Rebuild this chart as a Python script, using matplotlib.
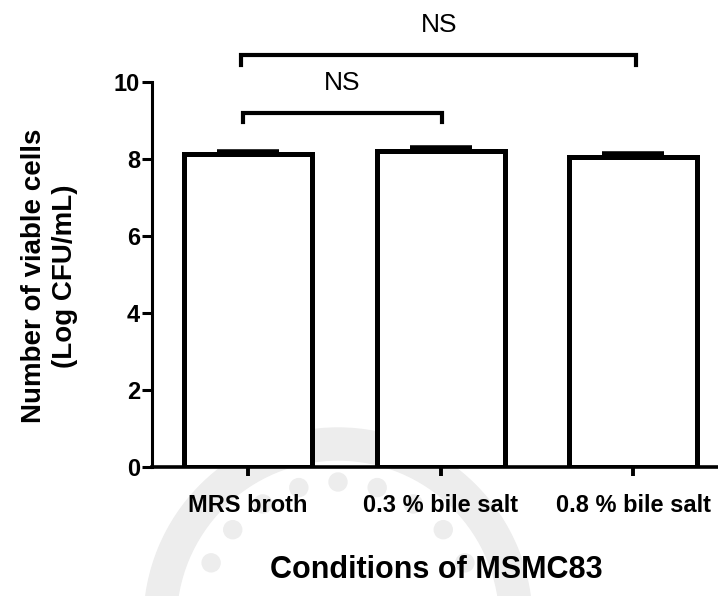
import matplotlib
matplotlib.use("Agg")
import matplotlib.pyplot as plt
from matplotlib.patches import Wedge, Circle
import numpy as np

plt.rcParams['font.family'] = ['Liberation Sans', 'DejaVu Sans']

# ---- data ----
categories = ["MRS broth", "0.3 % bile salt", "0.8 % bile salt"]
means = [8.12, 8.22, 8.06]
sds = [0.05, 0.07, 0.06]
y_ticks = [0, 2, 4, 6, 8, 10]
comparisons = [(0, 1, "NS"), (0, 2, "NS")]
y_label = "Number of viable cells\n(Log CFU/mL)"
x_label = "Conditions of MSMC83"

W, H = 718, 596
fig = plt.figure(figsize=(W / 100, H / 100), dpi=100)

# faint background watermark (decoration, pixel space)
wm = '#ededed'
fig.patches.append(Wedge((338, H - 622), 194, 0, 360, width=32,
                         color=wm, transform=None, zorder=-5))
for ang in np.linspace(25, 155, 9):
    a = np.deg2rad(ang)
    fig.patches.append(Circle((338 + 140 * np.cos(a), H - 622 + 140 * np.sin(a)),
                              9, color=wm, transform=None, zorder=-5))

ax = fig.add_axes([152 / W, 129 / H, (729.5 - 152) / W, 385 / H])
ax.patch.set_alpha(0)
ax.set_zorder(2)

x = np.arange(len(categories))
ax.bar(x, means, width=0.667, color='white', edgecolor='black',
       linewidth=3.6, zorder=3)
ax.errorbar(x, means, yerr=[np.zeros(len(sds)), sds], fmt='none',
            ecolor='black', elinewidth=3.6, capsize=22, capthick=4, zorder=4)

ax.set_xlim(-0.5, 2.5)
ax.set_ylim(0, 10)
ax.set_yticks(y_ticks)
ax.set_yticklabels([str(t) for t in y_ticks], fontsize=17, fontweight='bold')
ax.set_xticks(x)
ax.set_xticklabels(categories, fontsize=17, fontweight='bold')

for s in ['top', 'right']:
    ax.spines[s].set_visible(False)
ax.spines['left'].set_linewidth(2.2)
ax.spines['bottom'].set_linewidth(2.6)
ax.spines['left'].set_bounds(0, 10)
ax.tick_params(axis='y', direction='out', length=7.2, width=2.2, pad=1.5)
ax.tick_params(axis='x', direction='out', length=6.5, width=2.8, pad=13)

# significance brackets
bracket_geom = {(0, 1): (-0.026, 1.005, 9.19, 8.96, 9.97),
                (0, 2): (-0.036, 2.015, 10.70, 10.44, 11.48)}
for a, b, lab in comparisons:
    x0, x1, ytop, ylow, ytxt = bracket_geom[(a, b)]
    ax.plot([x0, x0, x1, x1], [ylow, ytop, ytop, ylow], color='black',
            lw=3, clip_on=False, solid_joinstyle='miter', zorder=5)
    ax.text((x0 + x1) / 2, ytxt, lab, ha='center', va='center',
            fontsize=19, clip_on=False)

fig.text(50 / W, 1 - 276 / H, y_label, rotation=90, ha='center', va='center',
         fontsize=20, fontweight='bold', multialignment='center',
         linespacing=1.25, zorder=10)
fig.text(436 / W, 1 - 570 / H, x_label, ha='center', va='center',
         fontsize=22, fontweight='bold', zorder=10)

fig.savefig("out.png", dpi=100)
